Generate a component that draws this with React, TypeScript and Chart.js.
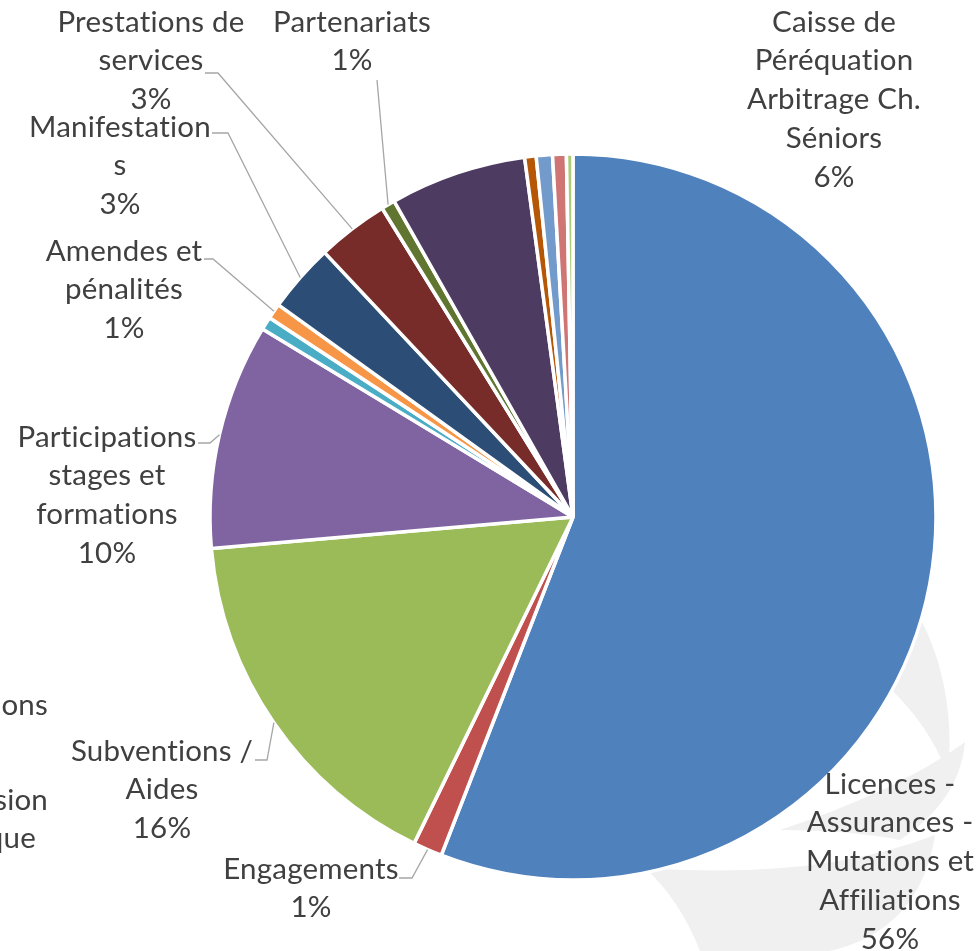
import React, { useEffect, useRef } from "react";
import { Chart, registerables } from "chart.js";

Chart.register(...registerables);

// ---- data ----
const categories = [
  "Licences - Assurances - Mutations et Affiliations",
  "Engagements",
  "Subventions / Aides",
  "Participations stages et formations",
  "Cotisations",
  "Amendes et pénalités",
  "Manifestations",
  "Prestations de services",
  "Partenariats",
  "Caisse de Péréquation Arbitrage Ch. Séniors",
  "Divers",
  "Produits financiers",
  "Dons",
  "Autres",
];

const shares = [55.9, 1.3, 16.4, 10.05, 0.58, 0.69, 3.06, 3.19, 0.61, 6.07, 0.51, 0.72, 0.61, 0.29];

const sliceColors = [
  "#4F81BD", "#C0504D", "#9BBB59", "#8064A2", "#4BACC6", "#F79646",
  "#2C4D75", "#772C2A", "#5F7530", "#4D3B62", "#B65708", "#729ACA",
  "#CF7574", "#AFCB7A",
];

// label text lines as wrapped in the picture (null = label outside the visible crop)
const labelLines: (string[] | null)[] = [
  ["Licences -", "Assurances -", "Mutations et", "Affiliations"],
  ["Engagements"],
  ["Subventions /", "Aides"],
  ["Participations", "stages et", "formations"],
  null,
  ["Amendes et", "pénalités"],
  ["Manifestation", "s"],
  ["Prestations de", "services"],
  ["Partenariats"],
  ["Caisse de", "Péréquation", "Arbitrage Ch.", "Séniors"],
  null,
  null,
  null,
  null,
];

// tails of labels cut by the left edge of the picture
const cutLabelTails = ["ions", "sion", "que"];

// ---- layout (positions only) ----
const labelPos: ([number, number] | null)[] = [
  [890, 784], [311, 869], [162, 751], [107, 437], null, [124, 251],
  [120, 127], [151, 22], [352, 22], [834, 22], null, null, null, null,
];
// leader line: [startX, startY, elbowX, elbowY] or null
const leaders: (number[] | null)[] = [
  null, [399, 878, 412, 878], [255, 760, 267, 760], [198, 443, 210, 443], null,
  [204, 259, 213, 259], [212, 133, 228, 133], [205, 73, 218, 73], [377, 80, 377, 80],
  null, null, null, null, null,
];
const cutTailPos: [number, number][] = [[48, 705], [48, 800], [36, 838]];

const FONT = "29.5px Lato";
const TEXT_COLOR = "#404040";
const LINE_H = 38.8;

const watermark = {
  id: "watermark",
  beforeDatasetsDraw(chart: any) {
    const ctx = chart.ctx;
    ctx.save();
    ctx.fillStyle = "#F0F0F0";
    // blade right of the pie
    ctx.beginPath();
    ctx.moveTo(880, 560);
    ctx.quadraticCurveTo(960, 650, 948, 775);
    ctx.quadraticCurveTo(920, 700, 840, 650);
    ctx.closePath();
    ctx.fill();
    // middle blade
    ctx.beginPath();
    ctx.moveTo(965, 742);
    ctx.quadraticCurveTo(960, 800, 900, 840);
    ctx.quadraticCurveTo(850, 830, 780, 830);
    ctx.quadraticCurveTo(900, 790, 965, 742);
    ctx.closePath();
    ctx.fill();
    // lower blade
    ctx.beginPath();
    ctx.moveTo(935, 835);
    ctx.quadraticCurveTo(920, 930, 830, 951);
    ctx.lineTo(700, 951);
    ctx.quadraticCurveTo(680, 900, 645, 868);
    ctx.quadraticCurveTo(820, 880, 935, 835);
    ctx.closePath();
    ctx.fill();
    ctx.restore();
  },
};

const labelsPlugin = {
  id: "outsideLabels",
  afterDatasetsDraw(chart: any) {
    const ctx = chart.ctx;
    const meta = chart.getDatasetMeta(0);
    const total = shares.reduce((a, b) => a + b, 0);
    ctx.save();
    ctx.font = FONT;
    try { (ctx as any).letterSpacing = "0.2px"; } catch (e) {}
    ctx.fillStyle = TEXT_COLOR;
    ctx.textAlign = "center";
    ctx.textBaseline = "middle";
    meta.data.forEach((arc: any, i: number) => {
      const lines = labelLines[i];
      const pos = labelPos[i];
      if (!lines || !pos) return;
      const pct = Math.round((shares[i] / total) * 100) + "%";
      const all = [...lines, pct];
      all.forEach((t, k) => ctx.fillText(t, pos[0], pos[1] + k * LINE_H));
      const ld = leaders[i];
      if (ld) {
        const p = arc.getProps(["x", "y", "startAngle", "endAngle", "outerRadius"], true);
        const mid = (p.startAngle + p.endAngle) / 2;
        const ex = p.x + Math.cos(mid) * p.outerRadius;
        const ey = p.y + Math.sin(mid) * p.outerRadius;
        ctx.save();
        ctx.strokeStyle = "#A6A6A6";
        ctx.lineWidth = 1.3;
        ctx.beginPath();
        ctx.moveTo(ld[0], ld[1]);
        ctx.lineTo(ld[2], ld[3]);
        ctx.lineTo(ex, ey);
        ctx.stroke();
        ctx.restore();
      }
    });
    ctx.textAlign = "right";
    cutLabelTails.forEach((t, k) => ctx.fillText(t, cutTailPos[k][0], cutTailPos[k][1]));
    ctx.restore();
  },
};

export default function App() {
  const ref = useRef<HTMLCanvasElement | null>(null);
  useEffect(() => {
    if (!ref.current) return;
    const chart = new Chart(ref.current, {
      type: "pie",
      data: {
        labels: categories,
        datasets: [
          {
            data: shares,
            backgroundColor: sliceColors,
            borderColor: "#FFFFFF",
            borderWidth: 3.5,
          },
        ],
      },
      options: {
        responsive: false,
        animation: false,
        radius: 363,
        layout: { padding: { left: 211, right: 41, top: 155, bottom: 72 } },
        plugins: { legend: { display: false }, tooltip: { enabled: false }, title: { display: false } },
      },
      plugins: [watermark, labelsPlugin],
    });
    return () => chart.destroy();
  }, []);
  return (
    <div style={{ position: "absolute", left: 0, top: 0, width: 976, height: 951, background: "#FFFFFF" }}>
      <canvas ref={ref} width={976} height={951} style={{ display: "block" }} />
    </div>
  );
}
